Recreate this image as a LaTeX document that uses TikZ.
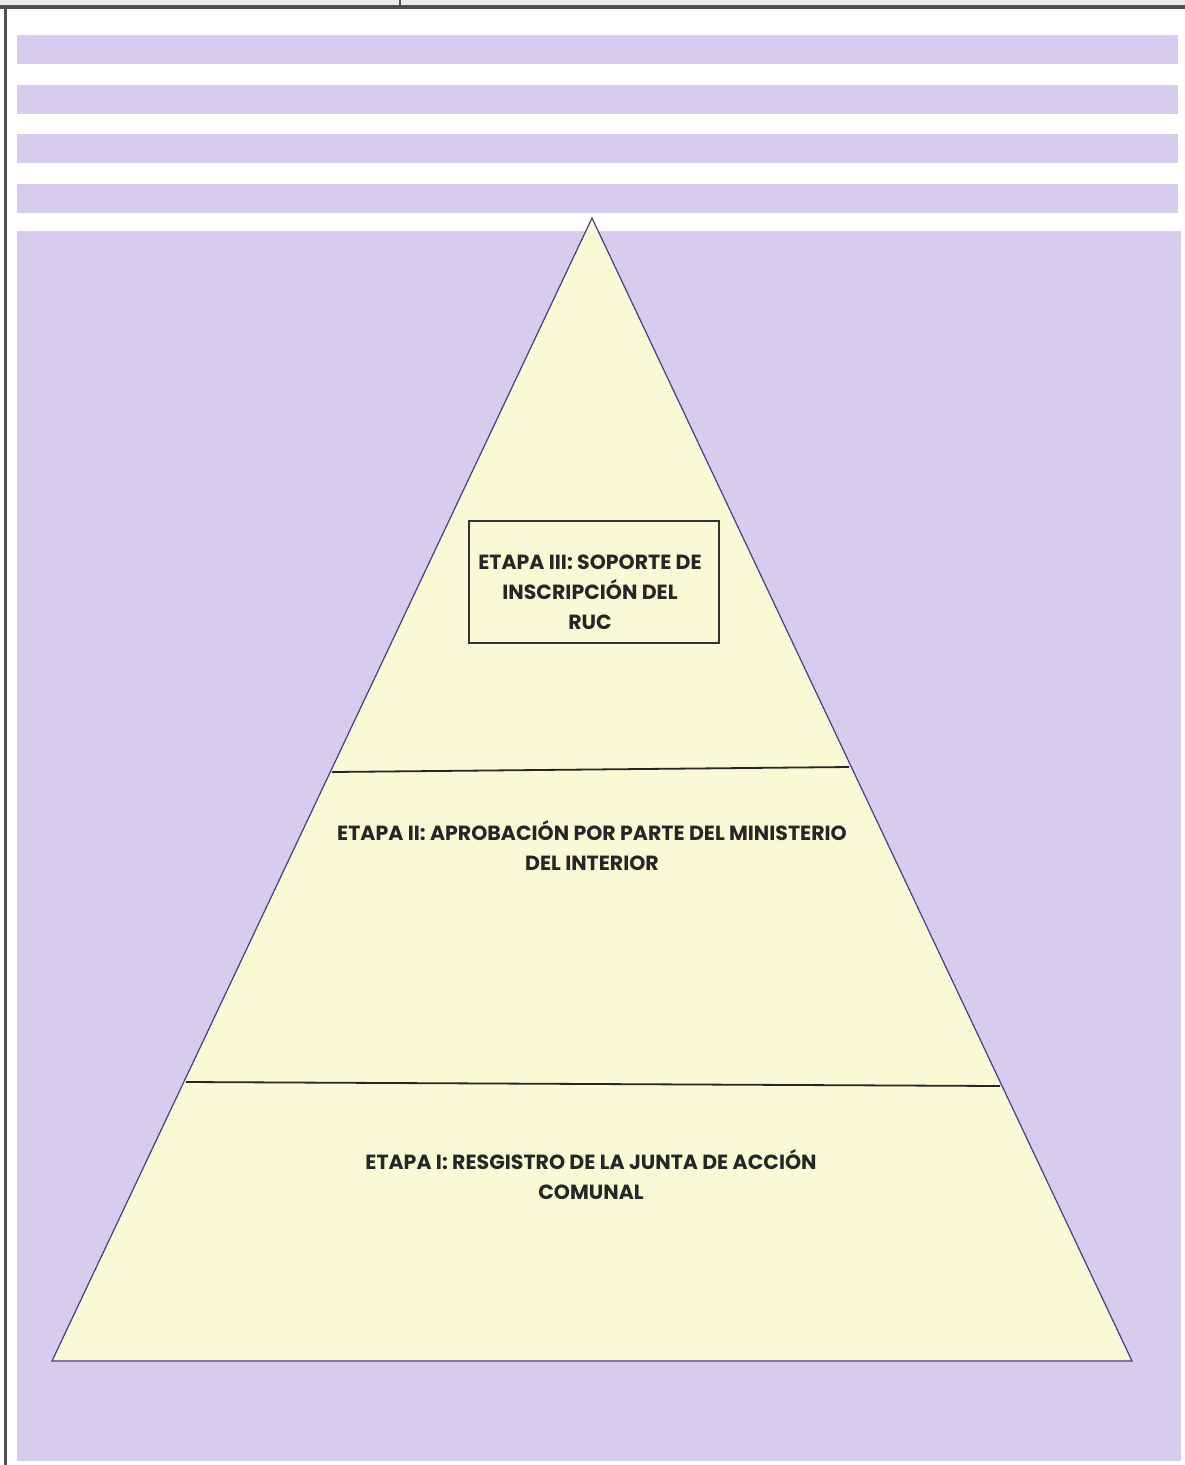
\documentclass[tikz,border=0pt]{standalone}
\usepackage{fontspec}
\setmainfont{Poppins}[BoldFont={* Bold}]
\definecolor{lav}{HTML}{D7CCEE}
\definecolor{pyr}{HTML}{F7FAD4}
\definecolor{edge}{HTML}{4A3C86}
\definecolor{frame}{HTML}{4F4F4F}
\tikzset{
  strip/.style={fill=lav, draw=none},
  lvltext/.style={align=center, font=\bfseries\fontsize{20.5}{30}\selectfont, text=black!85, inner sep=0pt},
  divline/.style={draw=black!85, line width=1.8pt}
}
\begin{document}
\begin{tikzpicture}[x=1pt,y=-1pt]
\useasboundingbox (0,0) rectangle (1185,1465);
\fill[white] (0,0) rectangle (1185,1465);
% top window chrome
\fill[black!8] (0,0) rectangle (1185,5);
\fill[frame] (0,5) rectangle (1185,8.5);
\fill[frame] (398.5,0) rectangle (401,8);
\fill[frame] (4,5) rectangle (7,1465);
% strips
\fill[strip] (17,35) rectangle (1178,64);
\fill[strip] (17,85) rectangle (1178,114);
\fill[strip] (17,134) rectangle (1178,163);
\fill[strip] (17,184) rectangle (1178,213);
\fill[strip] (17,231) rectangle (1181,1461);
% pyramid
\coordinate (apex) at (592,218);
\coordinate (bl) at (52,1361);
\coordinate (br) at (1132,1361);
\filldraw[fill=pyr, draw=edge, line width=1.2pt, line join=miter] (apex) -- (br) -- (bl) -- cycle;
\coordinate (l1) at (332,772);
\coordinate (r1) at (849,767);
\coordinate (l2) at (186,1082);
\coordinate (r2) at (1000,1086);
\draw[divline] (l1) -- (r1);
\draw[divline] (l2) -- (r2);
% box
\node[draw=black!80, line width=1.4pt, minimum width=250pt, minimum height=122pt, inner sep=0pt] (box) at (594,582) {};
\node[lvltext] (t3) at (590,592) {ETAPA III: SOPORTE DE\\INSCRIPCIÓN DEL\\RUC};
\node[lvltext] (t2) at (592,846) {ETAPA II: APROBACIÓN POR PARTE DEL MINISTERIO\\DEL INTERIOR};
\node[lvltext] (t1) at (591,1175) {ETAPA I: RESGISTRO DE LA JUNTA DE ACCIÓN\\COMUNAL};
\end{tikzpicture}
\end{document}
